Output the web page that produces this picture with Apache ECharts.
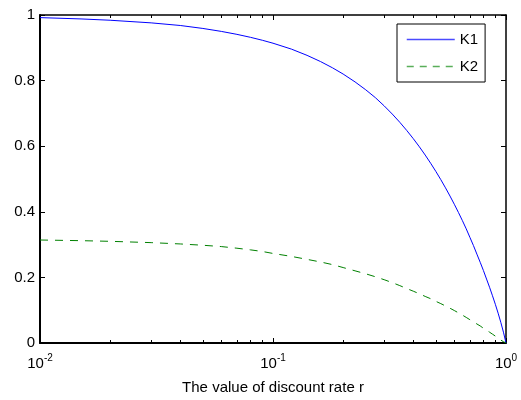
<!DOCTYPE html>
<html>
<head>
<meta charset="utf-8">
<script src="https://cdn.jsdelivr.net/npm/echarts@6/dist/echarts.min.js"></script>
<style>
  html, body { margin: 0; padding: 0; background: #fff; }
  #chart { width: 521px; height: 400px; }
</style>
</head>
<body>
<div id="chart"></div>
<script>
// discount rate r (log axis) and the two curves
const rates = [0.01, 0.015, 0.02, 0.03, 0.04, 0.05, 0.06, 0.07, 0.08, 0.09, 0.1, 0.12, 0.14, 0.16, 0.18,
  0.2, 0.225, 0.25, 0.275, 0.3, 0.325, 0.35, 0.375, 0.4, 0.425, 0.45, 0.475, 0.5, 0.525, 0.55, 0.575,
  0.6, 0.625, 0.65, 0.675, 0.7, 0.725, 0.75, 0.775, 0.8, 0.825, 0.85, 0.875, 0.9, 0.925, 0.95, 0.975, 1]
const k1 = [0.992, 0.988, 0.984, 0.976, 0.968, 0.959, 0.95, 0.941, 0.932, 0.923, 0.914, 0.896, 0.877, 0.858, 0.839,
  0.82, 0.796, 0.772, 0.748, 0.723, 0.698, 0.673, 0.648, 0.623, 0.598, 0.573, 0.548, 0.523, 0.498, 0.473, 0.448,
  0.423, 0.398, 0.373, 0.348, 0.322, 0.297, 0.271, 0.246, 0.221, 0.195, 0.17, 0.144, 0.118, 0.091, 0.063, 0.033, 0]
const k2 = [0.314, 0.312, 0.31, 0.306, 0.302, 0.298, 0.294, 0.289, 0.284, 0.279, 0.273, 0.264, 0.255, 0.247, 0.239,
  0.23, 0.22, 0.211, 0.202, 0.193, 0.184, 0.175, 0.166, 0.158, 0.15, 0.142, 0.135, 0.127, 0.12, 0.113, 0.106,
  0.099, 0.092, 0.085, 0.078, 0.071, 0.065, 0.058, 0.052, 0.045, 0.039, 0.033, 0.027, 0.021, 0.015, 0.009, 0.004, 0]
const minorTicks = [0.02, 0.03, 0.04, 0.05, 0.06, 0.07, 0.08, 0.09, 0.2, 0.3, 0.4, 0.5, 0.6, 0.7, 0.8, 0.9]
const xName = 'The value of discount rate r'

const FONT = 'Liberation Sans, Arial, sans-serif'
const K1_COLOR = '#0000ff'
const K2_COLOR = '#008000'
const minorExp = minorTicks.map((v) => Math.log10(v))

function boxAxis(position, width) {
  return {
    type: 'log',
    logBase: 10,
    min: 0.01,
    max: 1,
    position: position,
    axisLine: { show: true, onZero: false, lineStyle: { color: '#000', width: width } },
    axisTick: { show: true, inside: true, length: 5, lineStyle: { color: '#000' } },
    axisLabel: { show: false },
    splitLine: { show: false },
  }
}

// helper axes in exponent space, only used to draw the log minor ticks
function minorAxis(position) {
  return {
    type: 'value',
    min: -2,
    max: 0,
    position: position,
    axisLine: { show: false, onZero: false },
    axisTick: { show: true, inside: true, length: 3, customValues: minorExp, lineStyle: { color: '#000' } },
    axisLabel: { show: false },
    splitLine: { show: false },
  }
}

const bottomAxis = boxAxis('bottom', 2)
bottomAxis.axisLabel = {
  show: true,
  margin: 10,
  fontFamily: FONT,
  color: '#000',
  formatter: (v) => '{b|10}{s|' + Math.round(Math.log10(v)) + '}',
  rich: {
    b: { fontSize: 15, lineHeight: 18, fontFamily: FONT, color: '#000', verticalAlign: 'bottom' },
    s: { fontSize: 10, lineHeight: 10, fontFamily: FONT, color: '#000', verticalAlign: 'top' },
  },
}
bottomAxis.name = xName
bottomAxis.nameLocation = 'middle'
bottomAxis.nameGap = 37
bottomAxis.nameTextStyle = { fontSize: 15, fontFamily: FONT, color: '#000' }

function yAxis(position, width, labels) {
  return {
    type: 'value',
    min: 0,
    max: 1,
    interval: 0.2,
    position: position,
    axisLine: { show: true, onZero: false, lineStyle: { color: '#000', width: width } },
    axisTick: { show: true, inside: true, length: 5, lineStyle: { color: '#000' } },
    axisLabel: { show: labels, margin: 5, fontSize: 15, fontFamily: FONT, color: '#000' },
    splitLine: { show: false },
  }
}

const chart = echarts.init(document.getElementById('chart'))
chart.setOption({
  animation: false,
  backgroundColor: '#fff',
  grid: { left: 40, right: 15, top: 15, bottom: 56, containLabel: false },
  legend: {
    orient: 'vertical',
    left: 397,
    top: 24,
    padding: [8, 7, 8, 9],
    itemWidth: 48,
    itemHeight: 14,
    itemGap: 12,
    backgroundColor: '#fff',
    borderColor: '#000',
    borderWidth: 1,
    borderRadius: 0,
    itemStyle: { opacity: 0 },
    textStyle: { fontSize: 15, fontFamily: FONT, color: '#000' },
    data: [
      { name: 'K1', lineStyle: { color: '#4a4aff', width: 1.5 } },
      { name: 'K2', lineStyle: { color: '#5aae5a', width: 1.5, type: [7, 6] } },
    ],
  },
  xAxis: [bottomAxis, boxAxis('top', 1.5), minorAxis('bottom'), minorAxis('top')],
  yAxis: [yAxis('left', 2, true), yAxis('right', 1.5, false)],
  series: [
    {
      name: 'K1',
      type: 'line',
      xAxisIndex: 0,
      yAxisIndex: 0,
      data: rates.map((r, i) => [r, k1[i]]),
      symbol: 'none',
      lineStyle: { color: K1_COLOR, width: 1 },
      itemStyle: { color: K1_COLOR },
    },
    {
      name: 'K2',
      type: 'line',
      xAxisIndex: 0,
      yAxisIndex: 0,
      data: rates.map((r, i) => [r, k2[i]]),
      symbol: 'none',
      lineStyle: { color: K2_COLOR, width: 1, type: [8, 7] },
      itemStyle: { color: K2_COLOR },
    },
  ],
})
</script>
</body>
</html>
